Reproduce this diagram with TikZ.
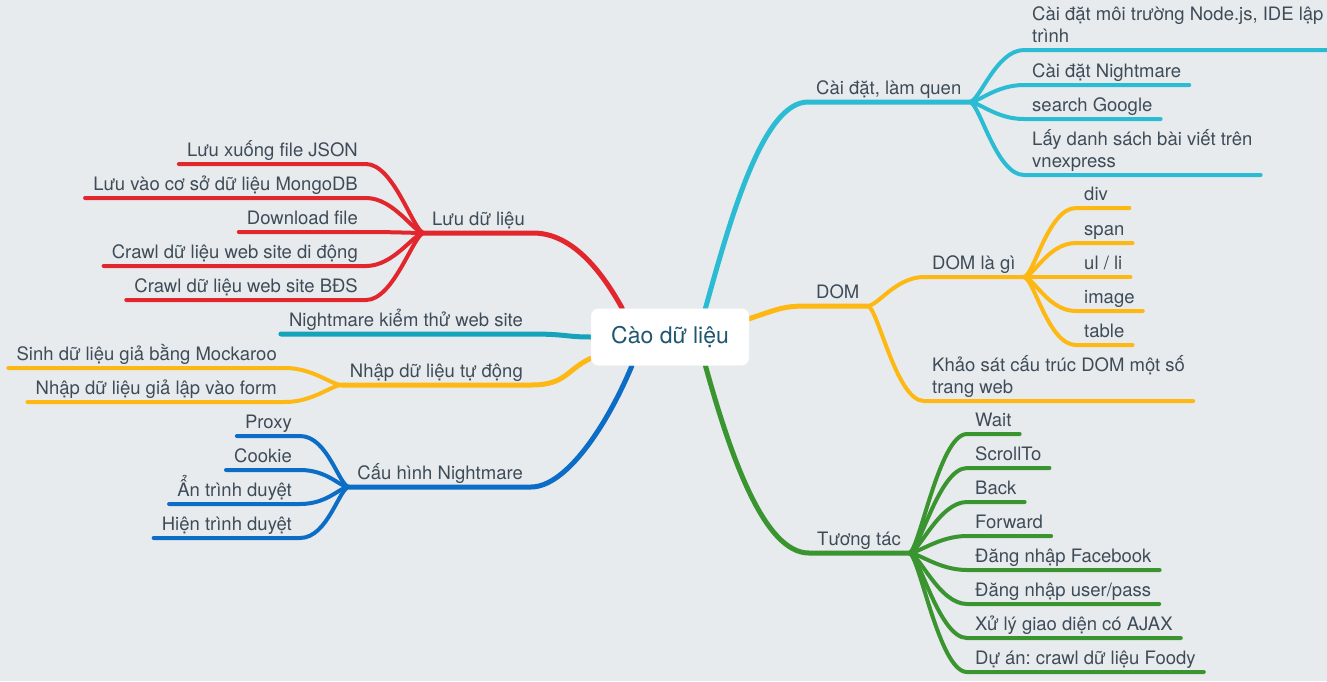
\documentclass[tikz,border=0pt]{standalone}
\usepackage{fontspec}
\setmainfont{TeX Gyre Heros}
\frenchspacing
\definecolor{bgcol}{HTML}{E8EBEE}
\definecolor{txtcol}{HTML}{3E4C58}
\definecolor{rootcol}{HTML}{1F5670}
\definecolor{redcol}{HTML}{E2262D}
\definecolor{cyancol}{HTML}{2BBCD3}
\definecolor{tealcol}{HTML}{15A3BA}
\definecolor{yelcol}{HTML}{FDB813}
\definecolor{greencol}{HTML}{3A942F}
\definecolor{bluecol}{HTML}{0B6DC6}
\pgfdeclarelayer{back}
\pgfsetlayers{back,main}
\tikzset{
  lbl/.style={font=\fontsize{18.5}{22.5}\selectfont, text=txtcol, inner xsep=8pt, inner ysep=3pt,
    align=left, execute at end node={\rule[-4pt]{0pt}{4pt}}},
  rleaf/.style={lbl, anchor=south west},
  lleaf/.style={lbl, anchor=south east},
  branch/.style={line width=5pt, line cap=round},
  twig/.style={line width=4pt, line cap=round},
}
\begin{document}
\begin{tikzpicture}[x=1pt,y=-1pt]
  \useasboundingbox (0,0) rectangle (1327,681);
  \begin{pgfonlayer}{back}
    \fill[bgcol] (0,0) rectangle (1327,681);
  \end{pgfonlayer}

  \node[fill=white, draw=black!6, rounded corners=7pt, minimum width=158pt, minimum height=57pt,
    font=\fontsize{23}{26}\selectfont, text=rootcol] (root) at (670,337) {Cào dữ liệu};

  % left side
  \node[lleaf] (luu) at (533,233) {Lưu dữ liệu};
  \node[lleaf] (json) at (366,164) {Lưu xuống file JSON};
  \node[lleaf] (mongo) at (366,198) {Lưu vào cơ sở dữ liệu MongoDB};
  \node[lleaf] (down) at (366,232) {Download file};
  \node[lleaf] (mobile) at (366,266) {Crawl dữ liệu web site di động};
  \node[lleaf] (bds) at (366,300) {Crawl dữ liệu web site BĐS};

  \node[lleaf] (test) at (531,334) {Nightmare kiểm thử web site};

  \node[lleaf] (nhap) at (531,385) {Nhập dữ liệu tự động};
  \node[lleaf] (mock) at (285,368) {Sinh dữ liệu giả bằng Mockaroo};
  \node[lleaf] (form) at (285,402) {Nhập dữ liệu giả lập vào form};

  \node[lleaf] (cfg) at (531,487) {Cấu hình Nightmare};
  \node[lleaf] (proxy) at (300,436) {Proxy};
  \node[lleaf] (cookie) at (300,470) {Cookie};
  \node[lleaf] (hide) at (300,504) {Ẩn trình duyệt};
  \node[lleaf] (show) at (300,538) {Hiện trình duyệt};

  % right side
  \node[rleaf] (setup) at (808,102) {Cài đặt, làm quen};
  \node[rleaf] (nodejs) at (1024,50) {Cài đặt môi trường Node.js, IDE lập\\trình};
  \node[rleaf] (inst) at (1024,85) {Cài đặt Nightmare};
  \node[rleaf] (search) at (1024,119) {search Google};
  \node[rleaf] (vnx) at (1024,175) {Lấy danh sách bài viết trên\\vnexpress};

  \node[rleaf] (dom) at (808,306) {DOM};
  \node[rleaf] (what) at (924,277) {DOM là gì};
  \node[rleaf, text width=37pt] (div) at (1076,208) {div};
  \node[rleaf] (span) at (1076,243) {span};
  \node[rleaf] (ulli) at (1076,277) {ul / li};
  \node[rleaf] (image) at (1076,311) {image};
  \node[rleaf] (table) at (1076,345) {table};
  \node[rleaf] (survey) at (924,401) {Khảo sát cấu trúc DOM một số\\trang web};

  \node[rleaf] (act) at (809,553) {Tương tác};
  \node[rleaf] (wait) at (967,434) {Wait};
  \node[rleaf] (scroll) at (967,468) {ScrollTo};
  \node[rleaf] (back) at (967,502) {Back};
  \node[rleaf] (fwd) at (967,536) {Forward};
  \node[rleaf] (fb) at (967,570) {Đăng nhập Facebook};
  \node[rleaf] (user) at (967,604) {Đăng nhập user/pass};
  \node[rleaf] (ajax) at (967,638) {Xử lý giao diện có AJAX};
  \node[rleaf] (foody) at (967,672) {Dự án: crawl dữ liệu Foody};

  \begin{pgfonlayer}{back}
    % branches
    \draw[branch,redcol] (luu.south west) -- (luu.south east) .. controls +(35,0) and +(-25,-45) .. (root.149);
    \draw[branch,tealcol] (test.south west) -- (test.south east) .. controls +(35,0) and +(-25,0) .. (root.west);
    \draw[branch,yelcol] (nhap.south west) -- (nhap.south east) .. controls +(35,0) and +(-25,12) .. (root.195);
    \draw[branch,bluecol] (cfg.south west) -- (cfg.south east) .. controls +(35,0) and +(-25,60) .. (root.217);
    \draw[branch,cyancol] (root.39) .. controls +(25,-90) and +(-45,0) .. (setup.south west) -- (setup.south east);
    \draw[branch,yelcol] (root.13) .. controls +(30,-10) and +(-25,0) .. (dom.south west) -- (dom.south east);
    \draw[branch,greencol] (root.321) .. controls +(25,90) and +(-45,0) .. (act.south west) -- (act.south east);

    % leaves
    \foreach \n in {json,mongo,down,mobile,bds}
      \draw[twig,redcol] (luu.south west) .. controls +(-10,0) and +(28,0) .. (\n.south east) -- (\n.south west);
    \foreach \n in {mock,form}
      \draw[twig,yelcol] (nhap.south west) .. controls +(-10,0) and +(28,0) .. (\n.south east) -- (\n.south west);
    \foreach \n in {proxy,cookie,hide,show}
      \draw[twig,bluecol] (cfg.south west) .. controls +(-10,0) and +(28,0) .. (\n.south east) -- (\n.south west);
    \foreach \n in {nodejs,inst,search,vnx}
      \draw[twig,cyancol] (setup.south east) .. controls +(10,0) and +(-28,0) .. (\n.south west) -- (\n.south east);
    \foreach \n in {what,survey}
      \draw[twig,yelcol] (dom.south east) .. controls +(10,0) and +(-28,0) .. (\n.south west) -- (\n.south east);
    \foreach \n in {div,span,ulli,image,table}
      \draw[twig,yelcol] (what.south east) .. controls +(10,0) and +(-28,0) .. (\n.south west) -- (\n.south east);
    \foreach \n in {wait,scroll,back,fwd,fb,user,ajax,foody}
      \draw[twig,greencol] (act.south east) .. controls +(10,0) and +(-28,0) .. (\n.south west) -- (\n.south east);
  \end{pgfonlayer}
\end{tikzpicture}
\end{document}
